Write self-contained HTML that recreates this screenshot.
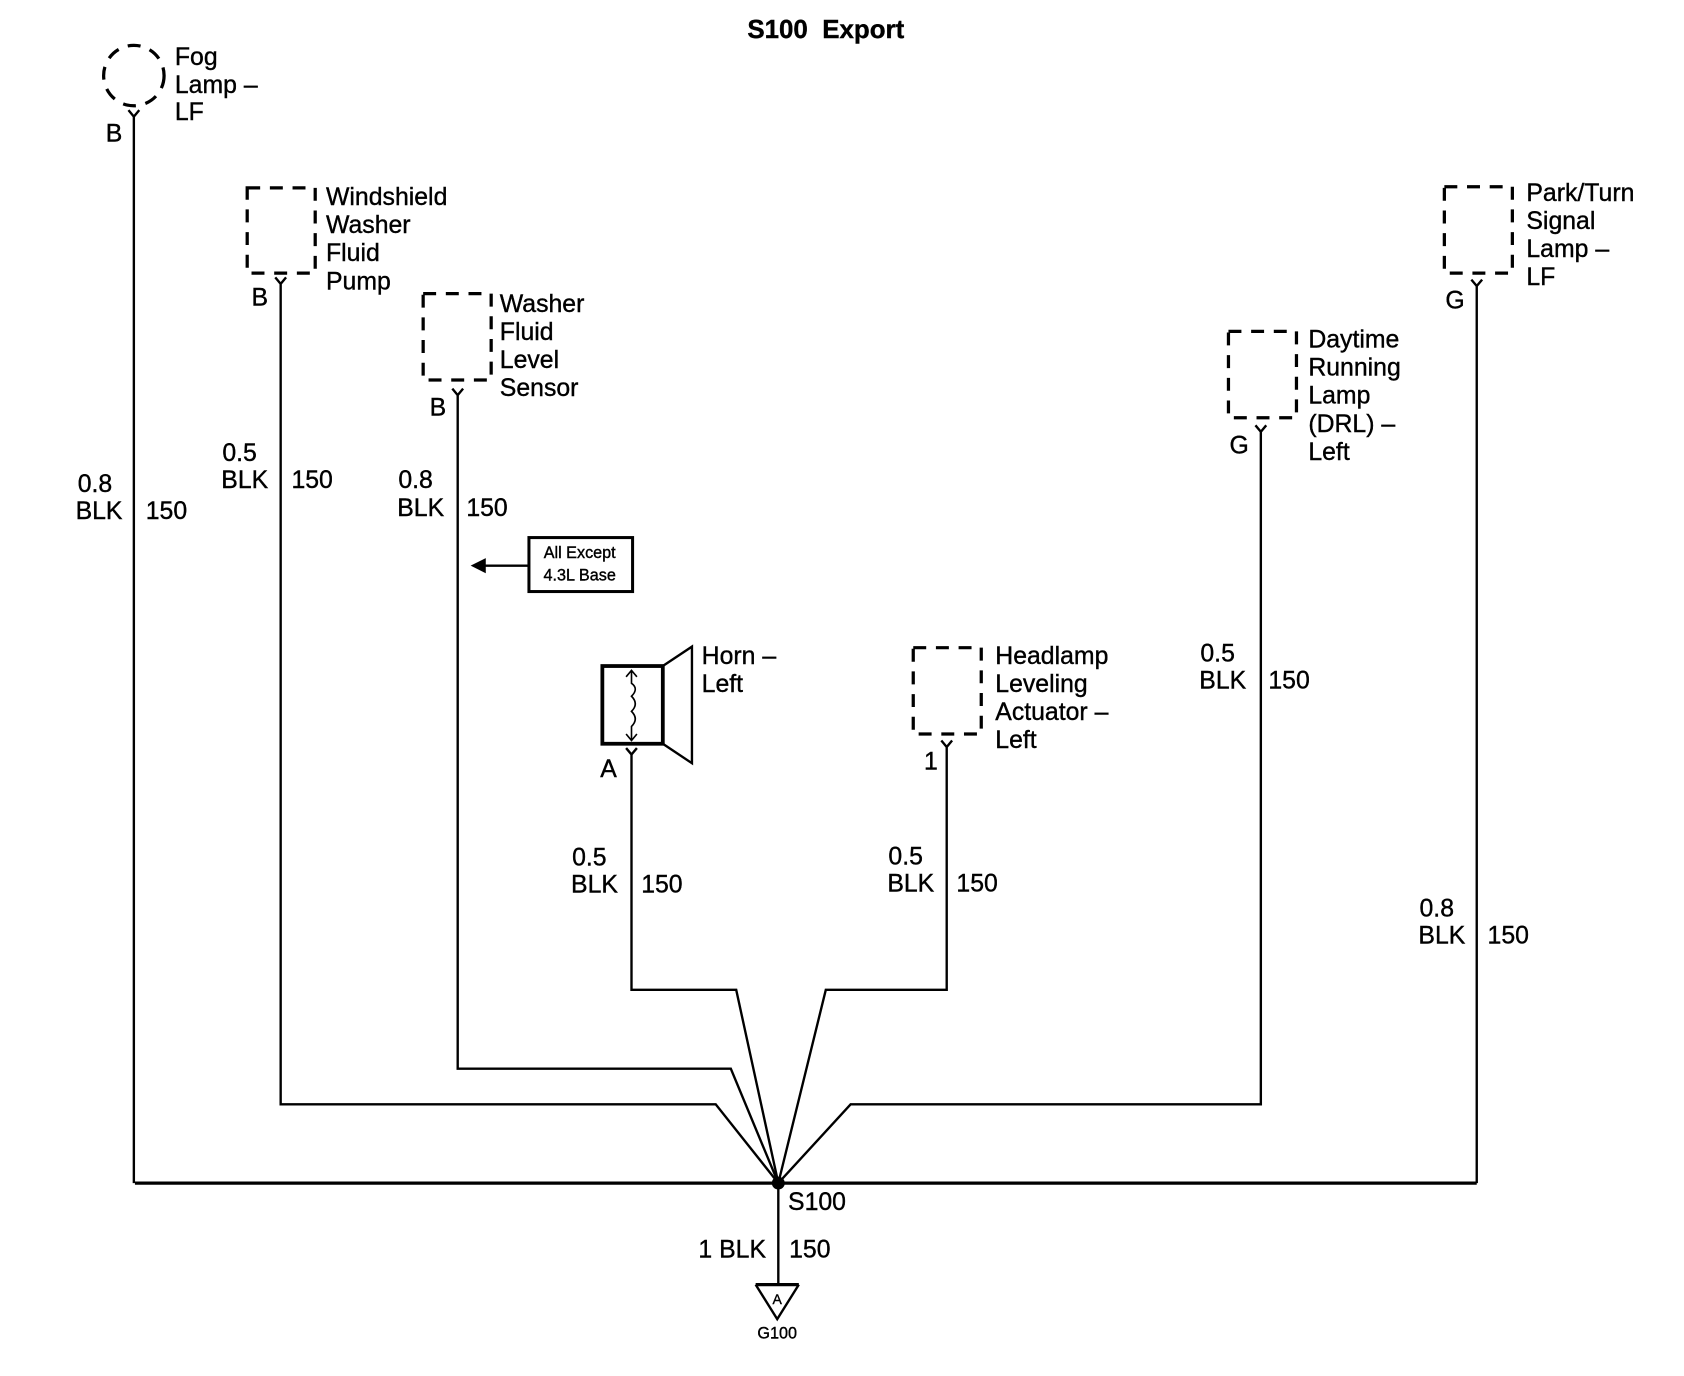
<!DOCTYPE html>
<html><head><meta charset="utf-8"><style>
html,body{margin:0;padding:0;background:#fff;}
svg{display:block;}
text{font-family:"Liberation Sans",Arial,sans-serif;font-size:23px;fill:#000;stroke:#000;stroke-width:0.35;}
</style></head><body>
<svg width="1684" height="1376" viewBox="0 0 1560 1274.7" preserveAspectRatio="none" xmlns="http://www.w3.org/2000/svg">
<g fill="none" stroke="#000" stroke-width="2.2">
<circle cx="124" cy="70" r="28" stroke-width="3" stroke-dasharray="12 9"/>
<path d="M119,102 L124,108 L129,102 M124,108 L124,1096"/>
<rect x="229" y="174" width="63" height="79" stroke-width="3" stroke-dasharray="12 9"/>
<path d="M255,257 L260,263 L265,257 M260,263 L260,1023 L663,1023 L721,1096"/>
<rect x="392" y="272" width="63" height="80" stroke-width="3" stroke-dasharray="12 9"/>
<path d="M419,360 L424,366 L429,360 M424,366 L424,990 L677,990 L721,1096"/>
<path d="M580,693 L585,699 L590,693 M585,699 L585,917 L682,917 L721,1096"/>
<rect x="846" y="600" width="63" height="80" stroke-width="3" stroke-dasharray="12 9"/>
<path d="M872,686 L877,692 L882,686 M877,692 L877,917 L765,917 L721,1096"/>
<rect x="1138" y="307" width="63" height="80" stroke-width="3" stroke-dasharray="12 9"/>
<path d="M1163,394 L1168,400 L1173,394 M1168,400 L1168,1023 L788,1023 L721,1096"/>
<rect x="1338" y="173" width="63" height="80" stroke-width="3" stroke-dasharray="12 9"/>
<path d="M1363,259 L1368,265 L1373,259 M1368,265 L1368,1096"/>
<path d="M125,1096 L1368,1096" stroke-width="3"/>
<path d="M721,1096 L721,1190"/>
<path d="M700,1190 L740,1190" stroke-width="3"/>
<path d="M700,1190 L720,1222 L740,1190"/>
<rect x="490" y="498" width="96" height="50" stroke-width="2.8"/>
<path d="M489,524 L448,524"/>
<rect x="558" y="617" width="56" height="72" stroke-width="3.5"/>
<path d="M614,617 L641,599 L641,707 L614,689"/>
<path d="M585,621 L585,633 Q592,638 585,645 Q592,652 585,659 Q592,666 585,673 L585,686 M580,627 L585,621 L590,627 M580,680 L585,686 L590,680" stroke-width="1.5"/>
</g>
<polygon points="436,524 450,517 450,531" fill="#000"/>
<circle cx="721" cy="1096" r="6" fill="#000"/>
<text x="765" y="35" text-anchor="middle" font-weight="bold" style="font-size:24px">S100&#160;&#160;Export</text>
<text x="162" y="60">Fog</text><text x="162" y="86">Lamp –</text><text x="162" y="111">LF</text>
<text x="98" y="131">B</text>
<text x="72" y="456">0.8</text><text x="70" y="481">BLK</text><text x="135" y="481">150</text>
<text x="302" y="190">Windshield</text><text x="302" y="216">Washer</text><text x="302" y="242">Fluid</text><text x="302" y="268">Pump</text>
<text x="233" y="283">B</text>
<text x="206" y="427">0.5</text><text x="205" y="452">BLK</text><text x="270" y="452">150</text>
<text x="463" y="289">Washer</text><text x="463" y="315">Fluid</text><text x="463" y="341">Level</text><text x="463" y="367">Sensor</text>
<text x="398" y="385">B</text>
<text x="369" y="452">0.8</text><text x="368" y="478">BLK</text><text x="432" y="478">150</text>
<text x="537" y="517" text-anchor="middle" style="font-size:15px">All Except</text>
<text x="537" y="538" text-anchor="middle" style="font-size:15px">4.3L Base</text>
<text x="650" y="615">Horn –</text><text x="650" y="641">Left</text>
<text x="556" y="720">A</text>
<text x="530" y="802">0.5</text><text x="529" y="827">BLK</text><text x="594" y="827">150</text>
<text x="922" y="615">Headlamp</text><text x="922" y="641">Leveling</text><text x="922" y="667">Actuator –</text><text x="922" y="693">Left</text>
<text x="856" y="713">1</text>
<text x="823" y="801">0.5</text><text x="822" y="826">BLK</text><text x="886" y="826">150</text>
<text x="1212" y="322">Daytime</text><text x="1212" y="348">Running</text><text x="1212" y="374">Lamp</text><text x="1212" y="400">(DRL) –</text><text x="1212" y="426">Left</text>
<text x="1139" y="420">G</text>
<text x="1112" y="613">0.5</text><text x="1111" y="638">BLK</text><text x="1175" y="638">150</text>
<text x="1414" y="186">Park/Turn</text><text x="1414" y="212">Signal</text><text x="1414" y="238">Lamp –</text><text x="1414" y="264">LF</text>
<text x="1339" y="286">G</text>
<text x="1315" y="849">0.8</text><text x="1314" y="874">BLK</text><text x="1378" y="874">150</text>
<text x="730" y="1121">S100</text>
<text x="647" y="1165">1 BLK</text><text x="731" y="1165">150</text>
<text x="720" y="1208" text-anchor="middle" style="font-size:13px">A</text>
<text x="720" y="1240" text-anchor="middle" style="font-size:15px">G100</text>
</svg>
</body></html>
